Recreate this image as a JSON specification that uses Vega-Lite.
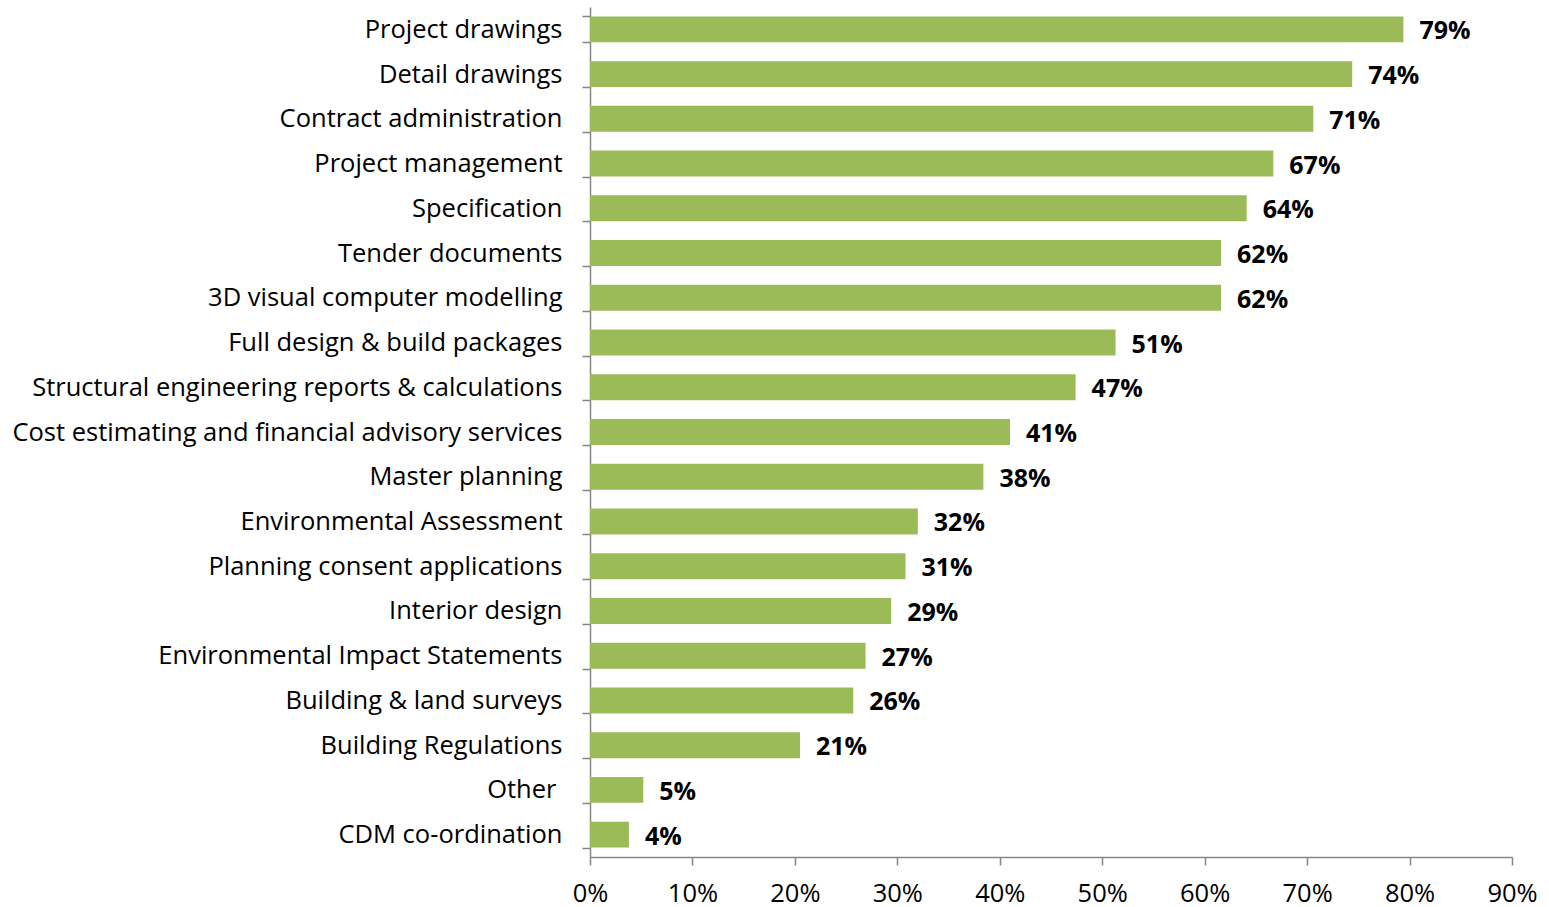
{
  "$schema": "https://vega.github.io/schema/vega-lite/v6.json",
  "autosize": {"type": "none"},
  "padding": {"left": 590, "top": 7, "right": 37, "bottom": 50},
  "width": 922,
  "height": 850,
  "background": "white",
  "data": {"values": [
    {"service": "Project drawings", "value": 0.794},
    {"service": "Detail drawings", "value": 0.744},
    {"service": "Contract administration", "value": 0.706},
    {"service": "Project management", "value": 0.667},
    {"service": "Specification", "value": 0.641},
    {"service": "Tender documents", "value": 0.616},
    {"service": "3D visual computer modelling", "value": 0.616},
    {"service": "Full design & build packages", "value": 0.513},
    {"service": "Structural engineering reports & calculations", "value": 0.474},
    {"service": "Cost estimating and financial advisory services", "value": 0.41},
    {"service": "Master planning", "value": 0.384},
    {"service": "Environmental Assessment", "value": 0.32},
    {"service": "Planning consent applications", "value": 0.308},
    {"service": "Interior design", "value": 0.294},
    {"service": "Environmental Impact Statements", "value": 0.269},
    {"service": "Building & land surveys", "value": 0.257},
    {"service": "Building Regulations", "value": 0.205},
    {"service": "Other", "value": 0.052},
    {"service": "CDM co-ordination", "value": 0.038}
  ]},
  "encoding": {
    "y": {
      "field": "service", "type": "nominal", "sort": null, "title": null,
      "scale": {"paddingInner": 0.42, "paddingOuter": 0.21},
      "axis": {
        "domainColor": "#868686", "domainWidth": 1.5,
        "tickColor": "#868686", "tickWidth": 1.5, "tickSize": 8,
        "tickBand": "extent",
        "labelFont": "Open Sans", "labelFontSize": 25.5, "labelColor": "#000000",
        "labelPadding": {"condition": {"test": "datum.value === 'Other'", "value": 26}, "value": 20},
        "labelLimit": 0
      }
    },
    "x": {
      "field": "value", "type": "quantitative", "title": null,
      "scale": {"domain": [0, 0.9], "nice": false},
      "axis": {
        "format": ".0%", "values": [0, 0.1, 0.2, 0.3, 0.4, 0.5, 0.6, 0.7, 0.8, 0.9],
        "grid": false,
        "domainColor": "#868686", "domainWidth": 1.5,
        "tickColor": "#868686", "tickWidth": 1.5, "tickSize": 8,
        "labelFont": "Open Sans", "labelFontSize": 25.5, "labelColor": "#000000",
        "labelPadding": 16, "labelFlush": false
      }
    }
  },
  "layer": [
    {"mark": {"type": "bar", "color": "#9BBB59"}},
    {
      "mark": {"type": "text", "align": "left", "baseline": "middle", "dx": 16, "dy": 2, "font": "Open Sans", "fontSize": 25, "fontWeight": "bold", "color": "#000000"},
      "encoding": {"text": {"field": "value", "format": ".0%"}}
    }
  ],
  "config": {"view": {"stroke": null}}
}
